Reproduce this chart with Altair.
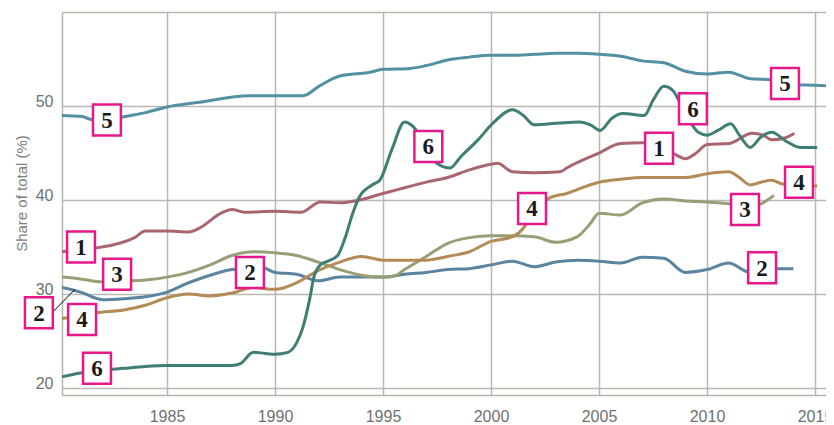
import altair as alt
import pandas as pd

# ---- data ----
s1_years = [1980.14, 1981, 1981.7, 1982.8, 1983.5, 1984, 1985, 1986, 1986.5, 1987.5, 1988, 1988.6, 1990, 1991.2, 1992.1, 1993, 1993.9, 1995, 1996, 1997, 1998, 1999, 2000, 2000.3, 2001, 2002, 2003.2, 2003.5, 2005, 2006, 2007, 2007.4, 2008.4, 2009, 2009.5, 2010, 2011, 2012.1, 2012.6, 2013, 2013.6, 2014.05]
s1_vals = [34.5, 34.7, 34.9, 35.4, 36.0, 36.7, 36.7, 36.6, 37.0, 38.6, 39.0, 38.7, 38.8, 38.7, 39.8, 39.7, 40.0, 40.7, 41.3, 41.9, 42.4, 43.2, 43.8, 43.9, 43.0, 42.9, 43.0, 43.4, 45.0, 46.0, 46.1, 45.9, 45.0, 44.4, 45.0, 45.9, 46.0, 47.1, 46.9, 46.4, 46.6, 47.1]

s2_years = [1980.14, 1981, 1982, 1983, 1984, 1985, 1986, 1987, 1988, 1988.7, 1989.3, 1990, 1991, 1992, 1993, 1994, 1995, 1996, 1997, 1998, 1999, 2000, 2001, 2002, 2003, 2004, 2005, 2006, 2007, 2008, 2009, 2010, 2011, 2012, 2013, 2014]
s2_vals = [30.7, 30.2, 29.4, 29.5, 29.7, 30.2, 31.2, 32.0, 32.6, 32.8, 32.9, 32.3, 32.1, 31.4, 31.8, 31.8, 31.8, 32.1, 32.3, 32.6, 32.7, 33.1, 33.5, 32.9, 33.4, 33.6, 33.5, 33.3, 33.9, 33.8, 32.3, 32.6, 33.3, 32.3, 32.7, 32.7]

s3_years = [1980.14, 1981, 1982, 1983, 1984, 1985, 1986, 1987, 1988, 1989, 1990, 1991, 1992, 1993, 1994, 1995, 1995.5, 1996, 1997, 1998, 1999, 2000, 2001, 2002, 2003, 2004, 2004.6, 2005, 2006, 2007, 2008, 2009, 2010, 2011, 2012, 2012.5, 2013.1]
s3_vals = [31.8, 31.6, 31.3, 31.4, 31.5, 31.8, 32.3, 33.1, 34.1, 34.5, 34.4, 34.1, 33.4, 32.6, 32.0, 31.8, 31.9, 32.6, 34.0, 35.4, 36.0, 36.2, 36.2, 36.1, 35.5, 36.1, 37.5, 38.6, 38.4, 39.7, 40.1, 39.9, 39.8, 39.6, 39.3, 39.6, 40.5]

s4_years = [1980.14, 1981, 1981.7, 1983, 1984, 1985, 1986, 1987, 1988, 1989, 1990, 1991, 1992, 1993, 1994, 1995, 1996, 1997, 1998, 1999, 2000, 2001, 2001.5, 2002, 2002.7, 2003.5, 2005, 2006, 2007, 2008, 2009, 2010, 2011, 2011.5, 2012, 2012.5, 2013, 2013.5, 2014.2, 2015.1]
s4_vals = [27.4, 27.7, 28.0, 28.3, 28.8, 29.6, 30.0, 29.8, 30.1, 30.7, 30.5, 31.2, 32.5, 33.4, 34.0, 33.6, 33.6, 33.6, 34.0, 34.5, 35.6, 36.1, 37.0, 38.9, 40.2, 40.7, 41.9, 42.2, 42.4, 42.4, 42.4, 42.8, 43.0, 42.4, 41.6, 41.9, 42.1, 41.7, 41.6, 41.5]

s5_years = [1980.14, 1981, 1981.6, 1982.2, 1982.9, 1984, 1985, 1986.5, 1988.8, 1990, 1991.3, 1992.1, 1993, 1994.4, 1995, 1996.25, 1997, 1998, 1999, 2000, 2001, 2002, 2003, 2004, 2005, 2006, 2007, 2008, 2009, 2010, 2011, 2012, 2013, 2014, 2015, 2015.9]
s5_vals = [49.0, 48.9, 48.5, 48.4, 48.8, 49.3, 49.9, 50.4, 51.1, 51.1, 51.1, 52.2, 53.2, 53.6, 53.9, 54.0, 54.3, 54.9, 55.2, 55.4, 55.4, 55.5, 55.6, 55.6, 55.5, 55.3, 54.8, 54.6, 53.7, 53.4, 53.6, 52.9, 52.8, 52.3, 52.2, 52.1]

s6_years = [1980.14, 1981, 1982, 1983, 1984, 1985, 1986, 1987, 1988, 1988.4, 1989, 1989.5, 1990, 1990.6, 1991.0, 1991.3, 1991.6, 1991.8, 1992.1, 1992.45, 1992.9, 1993.25, 1993.6, 1993.9, 1994.5, 1994.85, 1995.4, 1996, 1996.4, 1997.3, 1998.1, 1998.6, 1999.4, 2000.1, 2001, 2001.5, 2002, 2003.2, 2004.1, 2004.6, 2005.05, 2005.6, 2006.1, 2007.1, 2007.5, 2008, 2008.4, 2009, 2009.6, 2010, 2010.5, 2011.1, 2011.5, 2012, 2012.5, 2013, 2013.7, 2014.3, 2015.1]
s6_vals = [21.2, 21.6, 21.9, 22.1, 22.3, 22.4, 22.4, 22.4, 22.4, 22.6, 23.8, 23.7, 23.6, 23.8, 24.8, 26.5, 29.4, 31.8, 33.1, 33.5, 34.1, 36.0, 38.6, 40.3, 41.6, 42.1, 45.3, 48.3, 47.8, 44.3, 43.4, 44.6, 46.4, 48.2, 49.6, 49.0, 48.0, 48.2, 48.3, 48.0, 47.4, 48.7, 49.2, 49.0, 50.6, 52.1, 51.7, 49.2, 47.2, 46.9, 47.4, 48.1, 46.9, 45.6, 46.7, 47.2, 46.2, 45.6, 45.6]

series_names = ["1", "2", "3", "4", "5", "6"]
series_colors = ["#a9666f", "#5b84a0", "#979f76", "#b28b57", "#5391a2", "#3e7e75"]

label_text = ["5", "5", "6", "6", "6", "1", "1", "2", "2", "2", "3", "3", "4", "4", "4"]
label_years = [1982.22, 2013.61, 1997.1, 2009.35, 1981.76, 1981.02, 2007.78, 1979.07, 1988.84, 2012.55, 1982.69, 2011.76, 1981.07, 2001.9, 2014.26]
label_vals = [48.5, 52.4, 45.7, 49.7, 22.1, 35.0, 45.5, 28.0, 32.3, 32.8, 32.1, 39.0, 27.3, 39.1, 41.9]

leader_year = [1979.72]
leader_val = [28.1]
leader_year2 = [1980.74]
leader_val2 = [30.5]

y_ticks = [20, 30, 40, 50, 60]
x_ticks = [1985, 1990, 1995, 2000, 2005, 2010, 2015]

# ---- build tables ----
all_years = [s1_years, s2_years, s3_years, s4_years, s5_years, s6_years]
all_vals = [s1_vals, s2_vals, s3_vals, s4_vals, s5_vals, s6_vals]
rows = []
for name, ys, vs in zip(series_names, all_years, all_vals):
    for yr, v in zip(ys, vs):
        rows.append({"series": name, "year": yr, "value": v})
df = pd.DataFrame(rows)
labels = pd.DataFrame({"label": label_text, "year": label_years, "value": label_vals})
leader = pd.DataFrame({"year": leader_year, "value": leader_val, "year2": leader_year2, "value2": leader_val2})

xscale = alt.Scale(domain=[1980.14, 2015.51], nice=False, zero=False)
yscale = alt.Scale(domain=[19.26, 60], nice=False, zero=False)

xaxis = alt.Axis(values=x_ticks, format="d", title=None, grid=True, ticks=False,
                 labelPadding=13, labelFontSize=16, labelColor="#707070", labelFont="Liberation Sans",
                 domainColor="#b5b5af", domainWidth=1.5, gridColor="#b9b9b3", gridWidth=1.5)
yaxis = alt.Axis(values=y_ticks, title="Share of total (%)", grid=True, ticks=False,
                 labelExpr="datum.value == 60 ? '' : datum.label",
                 labelPadding=9, labelFontSize=16, labelColor="#707070", labelFont="Liberation Sans",
                 labelBaseline="alphabetic",
                 titleFont="Liberation Sans", titleFontSize=15, titleFontWeight="normal", titleColor="#808080",
                 titleX=-41, titleY=181, titleBaseline="middle", titleAngle=-90,
                 domainColor="#b5b5af", domainWidth=1.5, gridColor="#b9b9b3", gridWidth=1.5)

lines = alt.Chart(df).mark_line(strokeWidth=3, interpolate="monotone", clip=True).encode(
    x=alt.X("year:Q", scale=xscale, axis=xaxis),
    y=alt.Y("value:Q", scale=yscale, axis=yaxis),
    color=alt.Color("series:N", scale=alt.Scale(domain=series_names, range=series_colors), legend=None),
    detail="series:N",
)

rule = alt.Chart(leader).mark_rule(color="black", strokeWidth=1).encode(
    x=alt.X("year:Q", scale=xscale), y=alt.Y("value:Q", scale=yscale),
    x2="year2:Q", y2="value2:Q",
)

box_shape = "M-0.9,-1L0.9,-1L0.9,1L-0.9,1Z"
boxes = alt.Chart(labels).mark_point(shape=box_shape, size=961, filled=True, fill="white",
                                     stroke="#e8188c", strokeWidth=2.5, opacity=1).encode(
    x=alt.X("year:Q", scale=xscale), y=alt.Y("value:Q", scale=yscale),
)
texts = alt.Chart(labels).mark_text(font="Liberation Serif", fontWeight="bold", fontSize=23,
                                    color="#1a1a1a", baseline="middle", align="center", dy=1).encode(
    x=alt.X("year:Q", scale=xscale), y=alt.Y("value:Q", scale=yscale), text="label:N",
)

chart = alt.layer(lines, rule, boxes, texts).properties(
    width=764, height=383,
    autosize=alt.AutoSizeParams(type="none"),
    padding={"left": 54, "top": 4, "right": 0, "bottom": 30},
).configure_view(stroke=None)

chart.save("out.html", embed_options={"renderer": "svg", "actions": False})
